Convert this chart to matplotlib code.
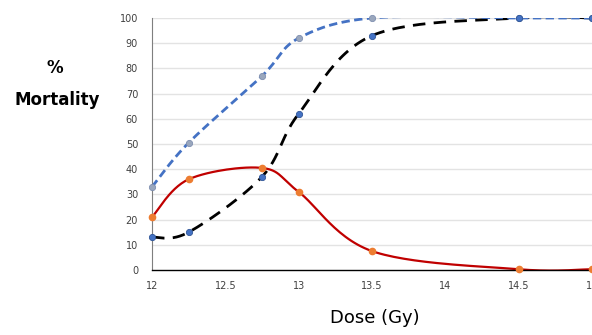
import numpy as np
import matplotlib
matplotlib.use("Agg")
import matplotlib.pyplot as plt

# data
dose = [12, 12.25, 12.75, 13, 13.5, 14.5, 15]
mort_a = [33, 50.5, 77, 92, 100, 100, 100]      # blue dashed
mort_b = [13, 15, 37, 62, 93, 100, 100]          # black dashed
mort_c = [21, 36, 40.5, 31, 7.5, 0.3, 0.3]       # red solid
x_ticks = [12, 12.5, 13, 13.5, 14, 14.5, 15]
y_ticks = list(range(0, 101, 10))


def smooth(x, y, n=30, t=0.5):
    # Excel-like smoothed line: cardinal spline through the points
    x = np.asarray(x, float)
    y = np.asarray(y, float)
    px = np.concatenate([[x[0]], x, [x[-1]]])
    py = np.concatenate([[y[0]], y, [y[-1]]])
    xs, ys = [], []
    s = np.linspace(0, 1, n)
    for i in range(1, len(px) - 2):
        p0, p1, p2, p3 = (np.array([px[j], py[j]]) for j in (i - 1, i, i + 1, i + 2))
        m1 = t * (p2 - p0)
        m2 = t * (p3 - p1)
        h00 = 2 * s**3 - 3 * s**2 + 1
        h10 = s**3 - 2 * s**2 + s
        h01 = -2 * s**3 + 3 * s**2
        h11 = s**3 - s**2
        pts = (np.outer(h00, p1) + np.outer(h10, m1) / 1.5 * 1.5
               + np.outer(h01, p2) + np.outer(h11, m2))
        xs.extend(pts[:, 0])
        ys.extend(pts[:, 1])
    return np.array(xs), np.array(ys)


fig = plt.figure(figsize=(5.92, 3.35), dpi=100)
ax = fig.add_axes([152 / 592, 1 - 270 / 335, 1 - 152 / 592, 252 / 335])

for yv in y_ticks[1:]:
    ax.axhline(yv, color="#e3e3e3", lw=1, zorder=0)

xs, ys = smooth(dose, mort_a)
ax.plot(xs, ys, color="#4472c4", lw=2, ls=(0, (3, 1.6)), zorder=3)
xs, ys = smooth(dose, mort_b)
ax.plot(xs, ys, color="black", lw=2, ls=(0, (4.5, 3)), zorder=2)
xs, ys = smooth(dose, mort_c)
ax.plot(xs, ys, color="#c00000", lw=1.6, zorder=2)

ax.plot(dose, mort_a, "o", ms=4.5, color="#9aa7bd", mec="#7f8fb0", mew=0.6, zorder=4, clip_on=False)
ax.plot(dose, mort_b, "o", ms=4.5, color="#4472c4", mec="#2f5597", mew=0.6, zorder=4, clip_on=False)
ax.plot(dose, mort_c, "o", ms=4.5, color="#ed7d31", mec="#ed7d31", zorder=4, clip_on=False)

ax.set_xlim(12, 15)
ax.set_ylim(0, 100)
ax.set_xticks(x_ticks)
ax.set_xticklabels(["12", "12.5", "13", "13.5", "14", "14.5", "15"])
ax.set_yticks(y_ticks)
ax.tick_params(length=0, labelsize=7, colors="#404040", pad=8)
ax.tick_params(axis="y", pad=10)
for side in ["top", "right"]:
    ax.spines[side].set_visible(False)
ax.spines["left"].set_color("#7f7f7f")
ax.spines["bottom"].set_color("black")
ax.spines["bottom"].set_linewidth(1)

fig.text(55 / 592, 1 - 68 / 335, "%", fontsize=12, fontweight="bold", ha="center", va="center")
fig.text(57 / 592, 1 - 100 / 335, "Mortality", fontsize=12, fontweight="bold", ha="center", va="center")
fig.text(375 / 592, 1 - 318 / 335, "Dose (Gy)", fontsize=13, ha="center", va="center")

fig.savefig("out.png", dpi=100)
